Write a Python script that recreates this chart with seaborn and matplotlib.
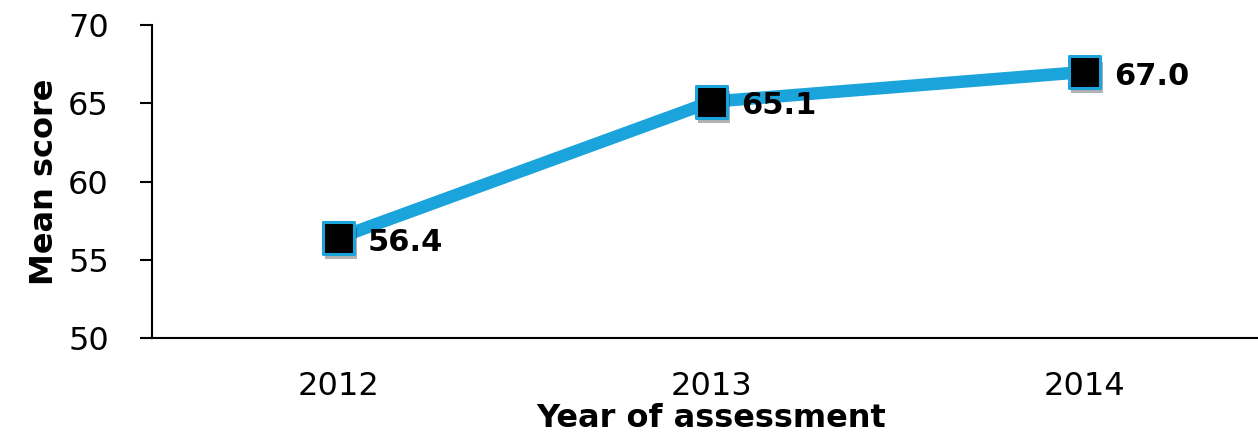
import matplotlib
matplotlib.use('Agg')
import matplotlib.pyplot as plt
import matplotlib.patheffects as pe
import seaborn as sns
import pandas as pd

years = ['2012', '2013', '2014']
mean_scores = [56.4, 65.1, 67.0]
score_labels = ['56.4', '65.1', '67.0']
y_ticks = [50, 55, 60, 65, 70]

df = pd.DataFrame({'year': years, 'score': mean_scores})

sns.set_style('white')
plt.rcParams['font.family'] = ['DejaVu Sans']
plt.rcParams['text.color'] = 'black'
plt.rcParams['axes.labelcolor'] = 'black'
plt.rcParams['xtick.color'] = 'black'
plt.rcParams['ytick.color'] = 'black'

fig = plt.figure(figsize=(12.58, 4.4), dpi=100)
ax = fig.add_axes([152/1258, 102/440, 1119/1258, 313/440])

blue = '#1ba3db'
sns.lineplot(data=df, x='year', y='score', ax=ax, color=blue, lw=9)
sns.scatterplot(data=df, x='year', y='score', ax=ax, marker='s', s=520,
                color='black', edgecolor=blue, linewidth=2.2, zorder=5,
                path_effects=[pe.SimplePatchShadow(offset=(2, -4), alpha=0.3, shadow_rgbFace='black'),
                              pe.Normal()])

for i, (v, t) in enumerate(zip(mean_scores, score_labels)):
    ax.annotate(t, (i, v), xytext=(21, -3), textcoords='offset points',
                ha='left', va='center', fontsize=22, fontweight='bold', color='black')

ax.set_xlim(-0.5, 2.5)
ax.set_ylim(50, 70)
ax.set_yticks(y_ticks)
ax.set_yticklabels([str(t) for t in y_ticks])
ax.tick_params(axis='y', which='both', left=True, length=9, width=1.5, labelsize=23, pad=22)
ax.tick_params(axis='x', bottom=False, labelsize=23, pad=20)
for s in ['top', 'right']:
    ax.spines[s].set_visible(False)
for s in ['left', 'bottom']:
    ax.spines[s].set_linewidth(1.5)
    ax.spines[s].set_color('black')

ax.set_xlabel('Year of assessment', fontsize=23, fontweight='bold', labelpad=1)
ax.set_ylabel('Mean score', fontsize=23, fontweight='bold', labelpad=6)

fig.savefig('out.png', dpi=100)
